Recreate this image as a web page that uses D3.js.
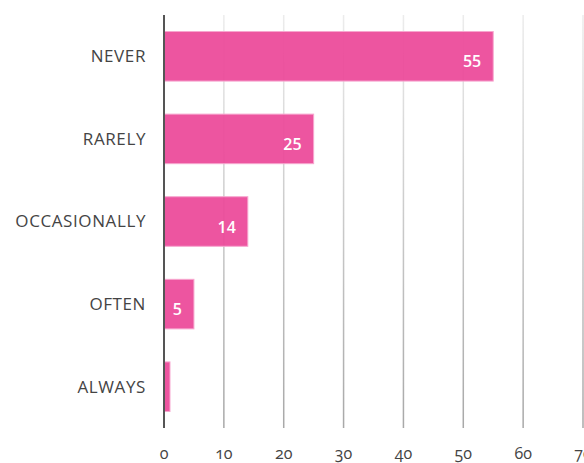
<!DOCTYPE html>
<html>
<head>
<meta charset="utf-8">
<script src="https://cdn.jsdelivr.net/npm/d3@7"></script>
<style>
    body { margin: 0; background: #fff; }
    svg { display: block; font-family: "Open Sans", "Lato", sans-serif; }
</style>
</head>
<body>
<div id="chart"></div>
<script>
    var categories = ["NEVER", "RARELY", "OCCASIONALLY", "OFTEN", "ALWAYS"];
    var values = [55, 25, 14, 5, 1];
    var ticks = [0, 10, 20, 30, 40, 50, 60, 70];

    var svgWidth = 584, svgHeight = 463;
    var margin = {top: 15, right: 1, bottom: 35, left: 164};
    var width = svgWidth - margin.left - margin.right;
    var height = svgHeight - margin.top - margin.bottom;

    var svg = d3.select("#chart")
        .append("svg")
        .attr("width", svgWidth)
        .attr("height", svgHeight);

    var defs = svg.append("defs");
    var grad = defs.append("linearGradient")
        .attr("id", "gridGrad")
        .attr("x1", 0).attr("y1", 0).attr("x2", 0).attr("y2", 1);
    grad.append("stop").attr("offset", "0%").attr("stop-color", "#ececec");
    grad.append("stop").attr("offset", "100%").attr("stop-color", "#a8a8a8");

    var g = svg.append("g")
        .attr("transform", "translate(" + margin.left + "," + margin.top + ")");

    var x = d3.scaleLinear().domain([0, 70]).range([0, width]);
    var y = d3.scaleBand().domain(categories).range([0, height])
        .paddingInner(0.4).paddingOuter(0.2);

    // grid lines
    g.selectAll(".grid")
        .data(ticks.filter(d => d > 0))
        .enter().append("rect")
        .attr("class", "grid")
        .attr("x", d => x(d) - 0.75)
        .attr("y", 0)
        .attr("width", 1.5)
        .attr("height", height)
        .attr("fill", "url(#gridGrad)");

    // bars
    g.selectAll(".bar")
        .data(values)
        .enter().append("rect")
        .attr("class", "bar")
        .attr("x", x(0))
        .attr("y", (d, i) => y(categories[i]))
        .attr("width", d => x(d))
        .attr("height", y.bandwidth())
        .attr("fill", "#ec4899")
        .attr("fill-opacity", 0.93)
        .attr("stroke", "#f7a6cf")
        .attr("stroke-width", 1);

    // value labels
    g.selectAll(".val")
        .data(values.filter(d => d > 1))
        .enter().append("text")
        .attr("class", "val")
        .attr("x", d => x(d) - 12)
        .attr("y", (d, i) => y(categories[i]) + y.bandwidth() / 2 + 11)
        .attr("text-anchor", "end")
        .attr("fill", "#fff")
        .attr("font-size", 16)
        .attr("font-weight", 600)
        .text(d => d);

    // y axis line
    g.append("line")
        .attr("x1", 0).attr("x2", 0)
        .attr("y1", 0).attr("y2", height)
        .attr("stroke", "#555")
        .attr("stroke-width", 2);

    // category labels
    g.selectAll(".cat")
        .data(categories)
        .enter().append("text")
        .attr("class", "cat")
        .attr("x", -18)
        .attr("y", d => y(d) + y.bandwidth() / 2)
        .attr("dy", "0.35em")
        .attr("text-anchor", "end")
        .attr("fill", "#444")
        .attr("font-size", 17)
        .attr("letter-spacing", 0.6)
        .text(d => d);

    // x tick labels
    g.selectAll(".tick-label")
        .data(ticks)
        .enter().append("text")
        .attr("class", "tick-label")
        .attr("x", d => x(d))
        .attr("y", height + 31)
        .attr("text-anchor", "middle")
        .attr("fill", "#444")
        .attr("font-size", 16)
        .style("font-variant-numeric", "oldstyle-nums")
        .text(d => d);
</script>
</body>
</html>
